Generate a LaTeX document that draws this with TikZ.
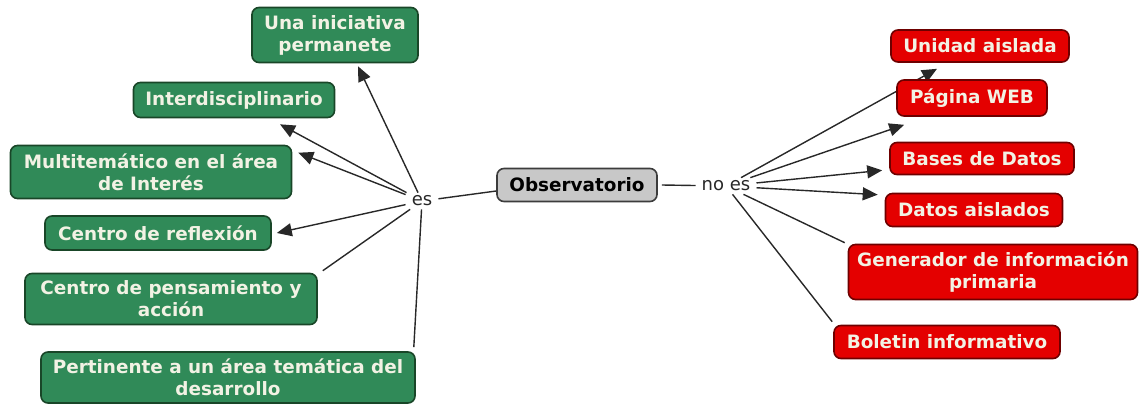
\documentclass[tikz,border=0pt]{standalone}
\usepackage{fontspec}
\setmainfont{DejaVu Sans}
\usetikzlibrary{arrows.meta,backgrounds}
\definecolor{gfill}{RGB}{48,138,88}
\definecolor{gdraw}{RGB}{25,70,40}
\definecolor{rfill}{RGB}{228,0,0}
\definecolor{rdraw}{RGB}{110,0,0}
\definecolor{ofill}{RGB}{200,200,200}
\definecolor{odraw}{RGB}{60,60,60}
\definecolor{btxt}{RGB}{242,242,228}
\definecolor{lcol}{RGB}{40,40,40}
\begin{document}
\begin{tikzpicture}[x=1pt,y=-1pt,
 box/.style={rounded corners=7pt, line width=1.6pt, align=center,
   font=\fontsize{18.4}{22}\selectfont\bfseries, inner sep=0pt},
 gbox/.style={box, fill=gfill, draw=gdraw, text=btxt},
 rbox/.style={box, fill=rfill, draw=rdraw, text=btxt},
 obox/.style={box, fill=ofill, draw=odraw, text=black},
 lab/.style={font=\fontsize{18}{20}\selectfont, text=lcol, inner xsep=6pt, inner ysep=3pt},
 conn/.style={draw=lcol, line width=1.4pt},
 arr/.style={conn, -{Triangle[length=15pt,width=13pt]}},
]
\useasboundingbox (0,0) rectangle (1139,404);

% green boxes
\node[gbox, minimum width=166pt, minimum height=55pt] (g1) at (335,35) {Una iniciativa\\permanete};
\node[gbox, minimum width=201pt, minimum height=35pt] (g2) at (234,100) {Interdisciplinario};
\node[gbox, minimum width=281pt, minimum height=53pt] (g3) at (151,172) {Multitemático en el área\\de Interés};
\node[gbox, minimum width=226pt, minimum height=34pt] (g4) at (158,233) {Centro de reflexión};
\node[gbox, minimum width=292pt, minimum height=51pt] (g5) at (171,299) {Centro de pensamiento y\\acción};
\node[gbox, minimum width=374pt, minimum height=51pt] (g6) at (228,377.5) {Pertinente a un área temática del\\desarrollo};

% center
\node[lab] (es) at (422,201) {es};
\node[obox, minimum width=160pt, minimum height=33pt] (obs) at (577,185) {Observatorio};
\node[lab] (noes) at (726,186) {no es};

% red boxes
\node[rbox, minimum width=178pt, minimum height=32pt] (r1) at (980,46) {Unidad aislada};
\node[rbox, minimum width=150pt, minimum height=36pt] (r2) at (972,98) {Página WEB};
\node[rbox, minimum width=184pt, minimum height=32pt] (r3) at (982,158.5) {Bases de Datos};
\node[rbox, minimum width=177pt, minimum height=33pt] (r4) at (974,210) {Datos aislados};
\node[rbox, minimum width=289pt, minimum height=55pt] (r5) at (993,272) {Generador de información\\primaria};
\node[rbox, minimum width=226pt, minimum height=33pt] (r6) at (947,342) {Boletin informativo};

\begin{scope}[on background layer]
\draw[arr] (es) -- ([shift={(23pt,-3pt)}]g1.south);
\draw[arr] (es) -- ([shift={(46pt,-6pt)}]g2.south);
\draw[arr] (es) -- ([shift={(6pt,-8pt)}]g3.north east);
\draw[arr] (es) -- ([shift={(5pt,0pt)}]g4.east);
\draw[conn] (es) -- ([shift={(5pt,2pt)}]g5.north east);
\draw[conn] (es) -- ([shift={(-2pt,4pt)}]g6.north east);
\draw[conn] (es) -- ([yshift=-6pt]obs.west);
\draw[conn] ([xshift=4pt]obs.east) -- (noes);
\draw[arr] (noes) -- ([shift={(-43pt,-6pt)}]r1.south);
\draw[arr] (noes) -- ([shift={(8pt,-8pt)}]r2.south west);
\draw[arr] (noes) -- ([shift={(-7pt,5pt)}]r3.south west);
\draw[arr] (noes) -- ([shift={(-7pt,-2pt)}]r4.north west);
\draw[conn] (noes) -- ([shift={(-3pt,1pt)}]r5.north west);
\draw[conn] (noes) -- ([shift={(-1pt,3pt)}]r6.north west);
\end{scope}
\end{tikzpicture}
\end{document}
